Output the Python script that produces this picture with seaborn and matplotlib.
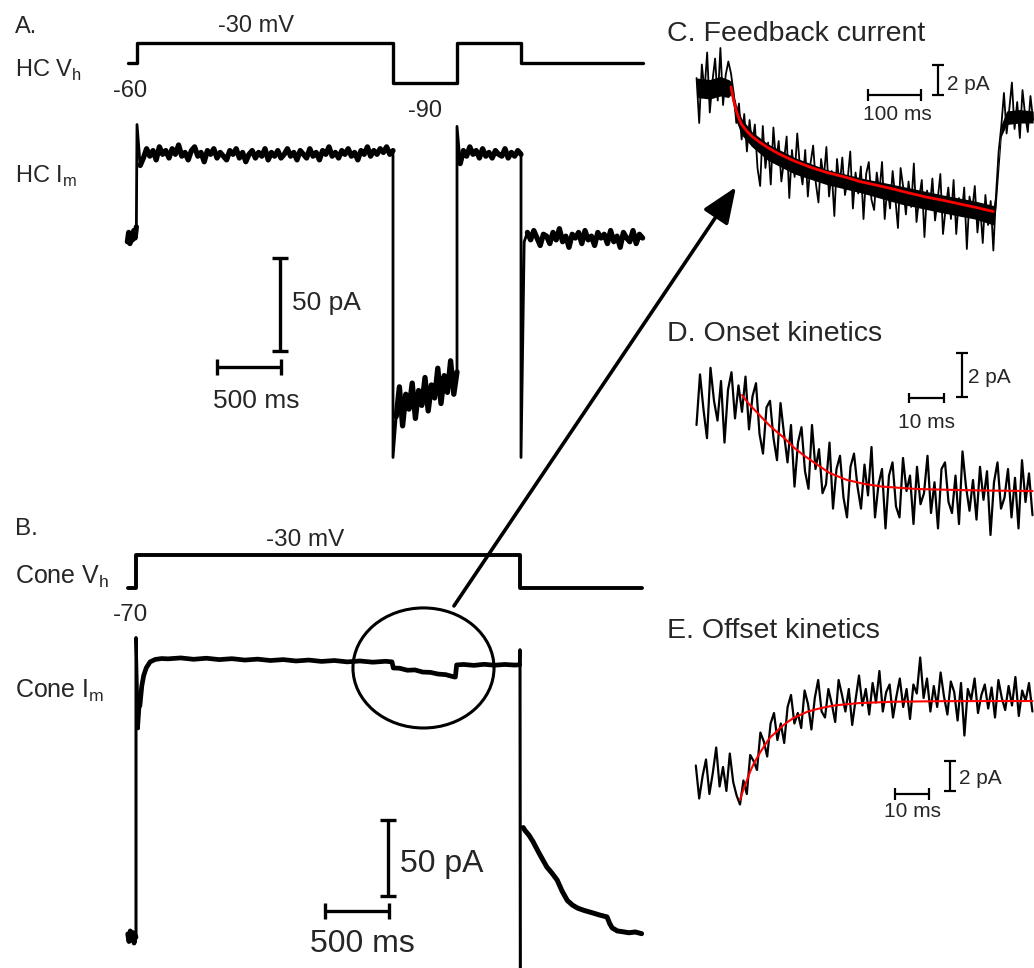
import numpy as np
import matplotlib
matplotlib.use("Agg")
import matplotlib.pyplot as plt
from matplotlib.patches import Ellipse, ConnectionPatch, ArrowStyle
import seaborn as sns

sns.set_theme(style="white")
plt.rcParams['font.family'] = ['Liberation Sans', 'DejaVu Sans']

# ---------------- data ----------------
# A. horizontal cell holding potential (ms, mV)
hc_vh_t = [-70, 0, 0, 2000, 2000, 2500, 2500, 3000, 3000, 3950]
hc_vh_v = [-60, -60, -30, -30, -90, -90, -30, -30, -60, -60]

# A. horizontal cell current (pA), sampled segments: (start ms, step ms)
hc_pre_t0, hc_pre_dt = -75, 10
hc_pre = [-2, 3, -3, 2, -1, 4, 0, 6]
hc_seg1_t0, hc_seg1_dt = 0, 25
hc_seg1 = [61, 39, 43, 48, 44, 47, 42, 49, 45, 47,
           43, 48, 45, 50, 44, 46, 42, 47, 49, 44,
           46, 41, 47, 45, 48, 43, 46, 44, 42, 47,
           45, 48, 43, 46, 41, 45, 47, 43, 46, 44,
           48, 42, 46, 44, 47, 43, 45, 48, 44, 46,
           42, 47, 45, 43, 48, 44, 46, 42, 47, 45,
           49, 44, 46, 43, 47, 45, 48, 44, 46, 42,
           47, 45, 49, 44, 47, 45, 48, 46, 49, 45,
           47]
hc_seg2_t0, hc_seg2_dt = 2000, 25
hc_seg2 = [-118, -96, -80, -101, -84, -92, -78, -97, -82, -90, -75,
           -93, -79, -86, -70, -89, -74, -83, -66, -84, -72]
hc_seg3_t0, hc_seg3_dt = 2500, 25
hc_seg3 = [60, 40, 47, 44, 49, 45, 47, 43, 48, 44, 46,
           43, 47, 45, 44, 48, 43, 46, 44, 47, 45]
hc_seg4_t0, hc_seg4_dt = 3000, 25
hc_seg4 = [-118, -2, 3, -1, 4, 0, -4, 2, 1, -3, 3, -1, 5, -2, 1, -5, 2, 0, 3, -3,
           4, -1, 1, -4, 3, 0, 2, -3, 4, -2, 1, -5, 3, 0, -2, 4, -3, 2, 0]

# B. cone holding potential (ms, mV)
cone_vh_t = [-65, 0, 0, 3000, 3000, 3950]
cone_vh_v = [-70, -70, -30, -30, -70, -70]

# B. cone current (ms, pA)
cone_t = [-65, -55, -45, -35, -25, -15, -5, 0, 0, 18, 30, 45, 60, 80, 110, 150, 200,
          250, 350, 450, 550, 650, 750, 850, 950, 1050, 1150, 1250, 1350, 1450, 1550,
          1650, 1750, 1850, 1950, 2000, 2010, 2060, 2120, 2180, 2240, 2300, 2360, 2420,
          2480, 2495, 2505, 2560, 2640, 2720, 2800, 2880, 2960, 2998, 3000, 3003]
cone_i = [2, -3, 4, -2, 3, -4, 1, 0, 197, 137, 152, 165, 172, 177, 181, 182.6, 183.2,
          183.0, 183.6, 182.7, 183.4, 182.5, 183.1, 182.2, 182.8, 181.9, 182.5, 181.6,
          182.2, 181.3, 181.9, 181.0, 181.6, 180.8, 181.4, 181.0, 177.0, 176.8, 175.5,
          175.7, 174.3, 174.1, 173.0, 172.6, 171.2, 171.0, 179.0, 179.3, 178.7, 179.4,
          178.8, 179.3, 178.9, 179.1, 189, -40]
cone_tail_t = [3025, 3040, 3070, 3100, 3150, 3210, 3250, 3290, 3330, 3370, 3410, 3450,
               3500, 3570, 3620, 3680, 3700, 3720, 3760, 3800, 3850, 3900, 3950]
cone_tail_i = [72, 70, 67, 63, 55, 46, 42, 37.5, 30, 24, 21, 19, 17.5, 15.8, 14.5,
               13.2, 9, 6, 4, 3.5, 2.8, 3.3, 2.2]

# C. feedback current (pA), sampled every 5 ms from -65 ms
fb_t0, fb_dt = -65, 5
fb_i = [0.6, -2.4, 1.5, -0.3, 2.3, -1.7, 0.4, 1.9, -0.9, 2.6, -1.2, 0.8, 1.7,
        0.9, -0.4, -2.4, -1.1, -3.5, -1.8, -4.3, -2.2, -3.9, -2.5, -5.4, -6.6,
        -2.6, -5.4, -3.7, -6.5, -2.7, -5.0, -3.6, -6.3, -4.9, -3.3,
        -7.4, -4.2, -6.0, -3.1, -5.3, -6.5, -4.2, -7.3, -5.1, -3.9,
        -6.4, -7.7, -4.8, -6.1, -4.0, -7.3, -5.6, -8.6, -4.8, -6.6,
        -4.7, -7.2, -6.2, -4.3, -8.1, -5.7, -7.1, -5.3, -8.8, -5.8,
        -5.0, -7.5, -8.2, -5.7, -7.0, -5.0, -8.8, -6.6, -8.1, -5.6,
        -7.4, -9.4, -5.4, -6.7, -8.5, -6.3, -8.0, -5.1, -9.0, -7.4,
        -6.2, -10.0, -6.9, -8.1, -6.1, -8.9, -7.5, -5.8, -9.8, -8.1,
        -6.7, -8.8, -6.2, -9.8, -7.4, -8.6, -6.7, -10.8, -7.3, -8.3,
        -6.6, -9.7, -7.9, -10.4, -7.2, -9.2, -7.6, -10.9,
        -7.2, -4.3, -2.6, -0.4, -3.1, -1.5, 0.3, -2.8, -1.0, -3.4, -0.2, -1.9,
        -3.0, -0.6, -2.2]
# dense core of the noisy feedback trace (upper / lower edge, pA)
fb_band_t = [-65, -40, -20, -5, 0, 10, 20, 40, 70, 120, 180, 250, 320, 400, 460, 495,
             500, 510, 520, 545, 570]
fb_band_hi = [0.6, 0.5, 0.7, 0.5, 0.4, -1.2, -2.1, -3.0, -3.8, -4.7, -5.5, -6.1, -6.6,
              -7.2, -7.6, -7.9, -6.8, -2.5, -1.6, -1.5, -1.6]
fb_band_lo = [-0.7, -0.8, -0.6, -0.7, -0.5, -2.3, -3.2, -4.0, -4.9, -5.8, -6.5, -7.1,
              -7.8, -8.4, -8.8, -9.2, -8.0, -3.3, -2.5, -2.4, -2.4]
fb_fit_t = [0, 5, 10, 15, 20, 30, 40, 55, 70, 90, 117, 150, 181, 215, 243, 275, 306,
            340, 370, 400, 432, 465, 495]
fb_fit_i = [0, -0.9, -1.6, -2.1, -2.5, -2.95, -3.3, -3.7, -4.05, -4.45, -4.9, -5.35,
            -5.7, -6.0, -6.3, -6.55, -6.8, -7.1, -7.35, -7.55, -7.8, -8.05, -8.3]

# D. onset kinetics (pA), sampled every 1 ms from -13 ms
on_t0, on_dt = -13, 1
on_i = [3.0, 5.3, 3.7, 2.4, 5.6, 4.1, 3.2, 5.0, 2.2, 4.6, 5.4, 3.3, 4.8,
        3.6, 5.2, 2.8, 4.3, 4.9, 2.6, 1.7, 3.8, 4.1, 2.4,
        1.4, 4.0, 2.6, 1.3, 3.0, 0.2, 2.2, 2.9, 0.9, 0.1,
        3.0, 1.0, 1.9, -0.1, 0.3, 2.2, -0.8, 1.0, 1.6, -0.3,
        -1.2, 1.1, 1.7, 0.2, -0.8, 1.2, -0.2, 2.0, -1.2, 0.3,
        1.0, -1.7, 0.7, 1.3, -0.7, -1.2, 1.5, 0.0, 0.7, -1.5,
        1.1, -0.6, -0.1, 1.6, -1.0, 0.4, -1.7, 1.0, 1.3, -0.5,
        -1.0, 0.7, -1.5, 1.8, 0.2, -0.9, 0.5, -1.3, 1.1, -0.4,
        0.9, -2.0, 0.4, 1.3, -0.8, -0.3, 1.0, -1.2, 0.6, -1.7,
        1.4, -0.5, 0.8, -1.1]
on_fit_t = [0, 2, 4, 6, 8, 10, 12, 15, 18, 21, 25, 30, 35, 40, 50, 60, 70, 83]
on_fit_i = [4.36, 3.95, 3.62, 3.28, 2.96, 2.68, 2.42, 1.95, 1.58, 1.25, 0.82, 0.5,
            0.32, 0.2, 0.09, 0.05, 0.02, 0.0]

# E. offset kinetics (pA), sampled every 1 ms from -13 ms
off_t0, off_dt = -13, 1
off_i = [-4.3, -6.5, -5.0, -3.9, -6.2, -4.8, -3.1, -5.7, -4.4, -6.0, -3.5, -5.4, -6.3,
         -6.9, -5.3, -6.2, -3.6, -4.0, -4.6, -2.1, -2.7, -3.7, -1.5,
         -0.8, -2.6, -1.5, -2.8, -0.4, 0.4, -1.5, -0.8, -1.8, 0.7,
         -0.2, -1.9, 0.2, 1.4, -0.7, -1.1, 0.8, -0.2, -1.4, 1.4,
         0.4, -0.7, 0.8, -1.6, 0.1, 1.7, -0.3, 0.8, -0.9, 1.2,
         -0.1, 2.0, -0.7, 0.6, 1.1, -1.1, 0.3, 1.5, -0.4, 0.8,
         -1.2, 1.1, 0.5, 2.9, 0.2, 1.5, -0.7, 1.0, -0.4, 1.9,
         0.3, -0.9, 1.3, 0.6, -1.3, 1.2, -2.3, 0.8, 0.1, 1.5,
         -0.8, 0.4, 1.1, -0.5, 0.9, -1.1, 1.4, 0.2, -0.6, 1.0,
         -0.3, 1.6, -1.0, 0.7, 0.0, 1.2, -0.7]
off_fit_t = [0, 1, 2, 3, 4, 5, 6, 7, 8, 9, 10, 12, 14, 16, 18, 20, 24, 28, 35, 45, 60, 86]
off_fit_i = [-6.6, -5.9, -5.3, -4.7, -4.2, -3.8, -3.4, -3.05, -2.7, -2.4, -2.2, -1.75,
             -1.4, -1.1, -0.9, -0.7, -0.46, -0.29, -0.14, -0.05, -0.01, 0]

# ---------------- figure ----------------
W, H = 1034, 968
fig = plt.figure(figsize=(W / 100, H / 100), dpi=100)


def panel(box, origin, scale):
    # box in figure pixels (left, top, right, bottom); origin = pixel of data (0, 0)
    x0, y0, x1, y1 = box
    ox, oy = origin
    sx, sy = scale
    ax = fig.add_axes([x0 / W, 1 - y1 / H, (x1 - x0) / W, (y1 - y0) / H])
    ax.set_xlim((x0 - ox) / sx, (x1 - ox) / sx)
    ax.set_ylim((oy - y1) / sy, (oy - y0) / sy)
    ax.set_axis_off()
    return ax


def sampled(t0, dt, vals):
    return t0 + dt * np.arange(len(vals))


def trace(ax, t, v, color="black", lw=1.3):
    sns.lineplot(x=np.asarray(t, float), y=np.asarray(v, float), ax=ax, sort=False,
                 estimator=None, color=color, lw=lw, legend=False)


def scalebar(ax, x, y, dx=0, dy=0, lw=2.4, cap=6):
    if dx:
        ax.errorbar(x + dx / 2, y, xerr=dx / 2, fmt="none", ecolor="black",
                    elinewidth=lw, capsize=cap, capthick=lw, clip_on=False)
    else:
        ax.errorbar(x, y + dy / 2, yerr=dy / 2, fmt="none", ecolor="black",
                    elinewidth=lw, capsize=cap, capthick=lw, clip_on=False)


def label(x, y, s, size, ha="left"):
    fig.text(x / W, 1 - y / H, s, fontsize=size, ha=ha, va="baseline")


ax_av = panel((100, 25, 650, 100), (137, 23), (0.128, 20 / 30))
ax_ai = panel((100, 105, 650, 470), (137, 238), (0.128, 1.86))
ax_bv = panel((100, 545, 650, 600), (136, 530.25), (0.128, 0.825))
ax_bi = panel((100, 600, 650, 968), (136, 937), (0.128, 1.52))
ax_c = panel((690, 45, 1034, 280), (731, 87), (0.53, 15))
ax_d = panel((690, 345, 1034, 560), (742, 491), (3.5, 22))
ax_e = panel((690, 645, 1034, 830), (740, 701), (3.4, 15))

# A
trace(ax_av, hc_vh_t, hc_vh_v, lw=2.4)
hc_t = np.concatenate([sampled(hc_pre_t0, hc_pre_dt, hc_pre),
                       sampled(hc_seg1_t0, hc_seg1_dt, hc_seg1),
                       sampled(hc_seg2_t0, hc_seg2_dt, hc_seg2),
                       sampled(hc_seg3_t0, hc_seg3_dt, hc_seg3),
                       sampled(hc_seg4_t0, hc_seg4_dt, hc_seg4)])
hc_i = np.concatenate([hc_pre, hc_seg1, hc_seg2, hc_seg3, hc_seg4])
trace(ax_ai, hc_t, hc_i, lw=2.0)
# steady-state stretches are a thick noisy band
for t0, dt, seg, skip in [(hc_seg1_t0, hc_seg1_dt, hc_seg1, 1),
                          (hc_seg2_t0, hc_seg2_dt, hc_seg2, 1),
                          (hc_seg3_t0, hc_seg3_dt, hc_seg3, 1),
                          (hc_seg4_t0, hc_seg4_dt, hc_seg4, 2)]:
    trace(ax_ai, sampled(t0, dt, seg)[skip:], seg[skip:], lw=3.8)
trace(ax_ai, sampled(hc_pre_t0, hc_pre_dt, hc_pre), hc_pre, lw=3.8)
scalebar(ax_ai, 1117, -60.8, dy=50, lw=2.4, cap=6)
scalebar(ax_ai, 625, -69.4, dx=500, lw=2.4, cap=6)

# B
trace(ax_bv, cone_vh_t, cone_vh_v, lw=2.8)
trace(ax_bi, cone_t, cone_i, lw=2.2)
trace(ax_bi, cone_t[10:54], cone_i[10:54], lw=3.4)
trace(ax_bi, cone_t[:8], cone_i[:8], lw=3.4)
trace(ax_bi, cone_tail_t, cone_tail_i, lw=3.6)
scalebar(ax_bi, 1969, 27, dy=50, lw=2.4, cap=6)
scalebar(ax_bi, 1477, 17.1, dx=500, lw=2.4, cap=6)
ax_bi.add_patch(Ellipse((2246, 177), 1102, 79, fill=False, edgecolor="black",
                        lw=2.2, clip_on=False))

# C
ax_c.fill_between(fb_band_t, fb_band_lo, fb_band_hi, color="black", lw=0)
trace(ax_c, sampled(fb_t0, fb_dt, fb_i), fb_i, lw=1.3)
trace(ax_c, fb_fit_t, fb_fit_i, color="#ff0000", lw=2.0)
scalebar(ax_c, 258.5, -0.53, dx=100, lw=1.6, cap=4.3)
scalebar(ax_c, 390.6, -0.53, dy=2, lw=1.6, cap=4.0)

# D
trace(ax_d, sampled(on_t0, on_dt, on_i), on_i, lw=1.6)
trace(ax_d, on_fit_t, on_fit_i, color="#ff0000", lw=1.5)
scalebar(ax_d, 47.7, 4.23, dx=10, lw=1.6, cap=3.6)
scalebar(ax_d, 62.9, 4.27, dy=2, lw=1.6, cap=4.6)

# E
trace(ax_e, sampled(off_t0, off_dt, off_i), off_i, lw=1.6)
trace(ax_e, off_fit_t, off_fit_i, color="#ff0000", lw=1.5)
scalebar(ax_e, 45.6, -6.2, dx=10, lw=1.6, cap=4.3)
scalebar(ax_e, 61.8, -6.0, dy=2, lw=1.6, cap=4.6)

# arrow from the circled region to panel C
arrow = ConnectionPatch(xyA=(2484, 217.8), coordsA=ax_bi.transData,
                        xyB=(9.4, -6.67), coordsB=ax_c.transData,
                        arrowstyle=ArrowStyle("-|>", head_length=1.1, head_width=0.45),
                        mutation_scale=20, lw=2.6, color="black", fc="black")
fig.add_artist(arrow)

# text
label(15, 33, "A.", 17)
label(256, 32, "-30 mV", 17, "center")
label(15, 77, r"HC V$_\mathregular{h}$", 17)
label(130, 97, "-60", 17, "center")
label(425, 117, "-90", 17, "center")
label(15, 183, r"HC I$_\mathregular{m}$", 17)
label(292, 310, "50 pA", 19)
label(256, 408, "500 ms", 19, "center")

label(15, 535, "B.", 17.5)
label(305, 546, "-30 mV", 17.5, "center")
label(15, 584, r"Cone V$_\mathregular{h}$", 18)
label(130, 621, "-70", 17.5, "center")
label(15, 698, r"Cone I$_\mathregular{m}$", 18)
label(400, 872, "50 pA", 23)
label(362, 952, "500 ms", 23, "center")

label(667, 41, "C. Feedback current", 20.5)
label(897, 120, "100 ms", 15, "center")
label(947, 90, "2 pA", 15)
label(667, 341, "D. Onset kinetics", 20.5)
label(927, 428, "10 ms", 15, "center")
label(968, 383, "2 pA", 15)
label(667, 638, "E. Offset kinetics", 20.5)
label(959, 784, "2 pA", 15)
label(912, 817, "10 ms", 15, "center")

fig.savefig("out.png", dpi=100)
